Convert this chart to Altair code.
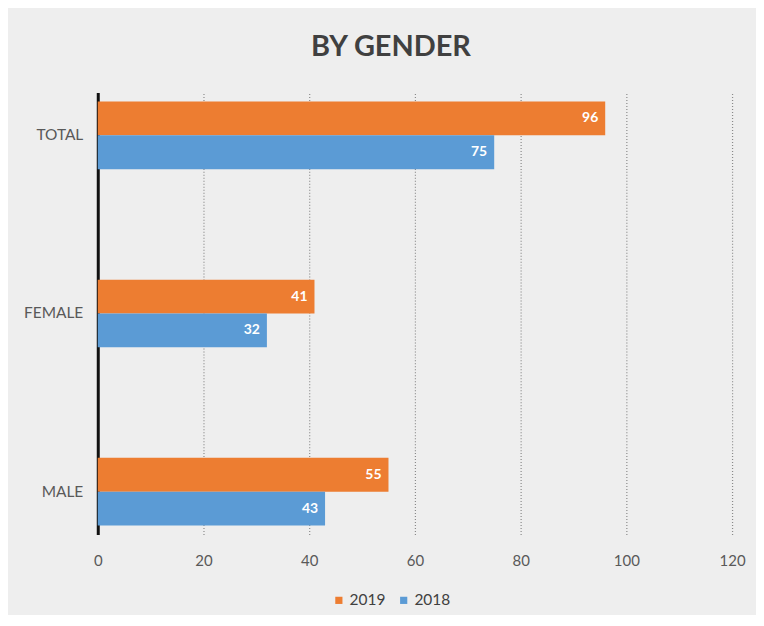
import altair as alt
import pandas as pd

categories = ["TOTAL", "FEMALE", "MALE"]
years = ["2019", "2018"]
values_2019 = [96, 41, 55]
values_2018 = [75, 32, 43]
x_ticks = [0, 20, 40, 60, 80, 100, 120]

rows = []
for c, v19, v18 in zip(categories, values_2019, values_2018):
    rows.append({"category": c, "year": "2019", "value": v19})
    rows.append({"category": c, "year": "2018", "value": v18})
df = pd.DataFrame(rows)

FONT = "Lato"

y_enc = alt.Y("category:N", sort=categories, title=None,
              scale=alt.Scale(domain=categories, paddingInner=0.62, paddingOuter=0.05),
              axis=alt.Axis(domain=True, domainColor="#111111", domainWidth=3,
                            ticks=False, labelFontSize=15.5, labelColor="#595959",
                            labelPadding=15, labelFont=FONT, grid=False))
x_enc = alt.X("value:Q", title=None,
              scale=alt.Scale(domain=[0, 120], nice=False),
              axis=alt.Axis(values=x_ticks, domain=False, ticks=False, labelFlush=False,
                            labelFontSize=15, labelColor="#595959", labelFont=FONT,
                            labelPadding=19, grid=True, gridColor="#8a8a8a",
                            gridDash=[1, 2], gridWidth=1.2))
yoff = alt.YOffset("year:N", sort=years, scale=alt.Scale(domain=years))

bars = alt.Chart(df).mark_bar(height={"band": 1}).encode(
    y=y_enc,
    x=x_enc,
    yOffset=yoff,
    color=alt.Color("year:N", sort=years,
                    scale=alt.Scale(domain=years, range=["#ED7D31", "#5B9BD5"]),
                    legend=alt.Legend(title=None, orient="none", direction="horizontal",
                                      legendX=234, legendY=501, symbolType="square",
                                      symbolSize=52, symbolStrokeWidth=0,
                                      labelFontSize=15.5, labelColor="#404040",
                                      labelFont=FONT, labelOffset=3, columnPadding=10)),
)

labels = alt.Chart(df).mark_text(align="right", dx=-7, fontSize=14,
                                 fontWeight="bold", color="white", font=FONT).encode(
    y=alt.Y("category:N", sort=categories),
    x=alt.X("value:Q"),
    yOffset=yoff,
    text=alt.Text("value:Q"),
)

chart = (bars + labels).properties(
    width=636,
    height=443,
    autosize=alt.AutoSizeParams(type="none"),
    padding={"left": 90, "top": 84, "right": 24, "bottom": 80},
    background="#eeeeee",
    title=alt.TitleParams("BY GENDER", fontSize=29, fontWeight="bold", color="#404040",
                          font=FONT, anchor="middle", dx=-24, offset=31),
).configure_view(stroke=None)

chart.save("out.html", embed_options={"renderer": "svg", "actions": False})
